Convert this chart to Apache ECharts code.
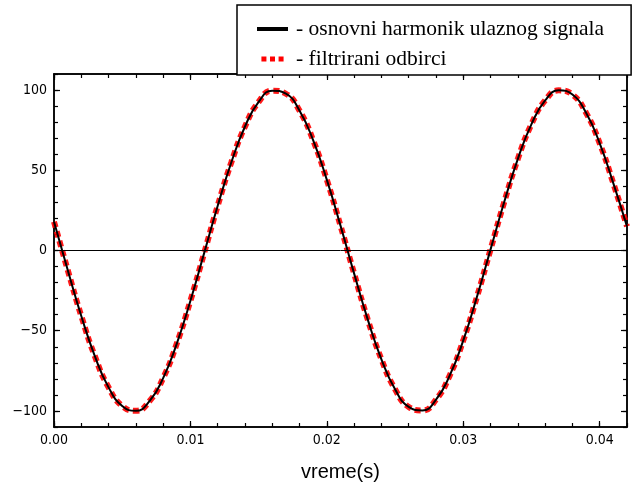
<!DOCTYPE html>
<html>
<head>
<meta charset="utf-8">
<script src="https://cdn.jsdelivr.net/npm/echarts@6/dist/echarts.min.js"></script>
<style>
    html, body { margin: 0; padding: 0; background: #fff; }
    #chart { width: 635px; height: 488px; }
</style>
</head>
<body>
<div id="chart"></div>
<script>
    // vreme (s), korak 1 ms
    var vreme = [0.000, 0.001, 0.002, 0.003, 0.004, 0.005, 0.006, 0.007, 0.008, 0.009,
        0.010, 0.011, 0.012, 0.013, 0.014, 0.015, 0.016, 0.017, 0.018, 0.019,
        0.020, 0.021, 0.022, 0.023, 0.024, 0.025, 0.026, 0.027, 0.028, 0.029,
        0.030, 0.031, 0.032, 0.033, 0.034, 0.035, 0.036, 0.037, 0.038, 0.039,
        0.040, 0.041, 0.042];
    // osnovni harmonik ulaznog signala
    var harmonik = [17.9, -12.0, -40.8, -66.0, -85.3, -96.9, -99.9, -93.9, -79.5, -58.0,
        -31.3, -1.8, 27.9, 55.0, 77.3, 92.6, 99.6, 97.7, 87.1, 68.6,
        44.0, 15.5, -14.4, -43.1, -67.8, -86.5, -97.5, -99.7, -93.0, -78.0,
        -56.0, -28.9, 0.7, 30.2, 57.1, 78.8, 93.5, 99.8, 97.2, 85.8,
        66.8, 41.8, 15.0];
    // filtrirani odbirci
    var odbirci = [17.9, -12.0, -40.8, -66.0, -85.3, -96.9, -99.9, -93.9, -79.5, -58.0,
        -31.3, -1.8, 27.9, 55.0, 77.3, 92.6, 99.6, 97.7, 87.1, 68.6,
        44.0, 15.5, -14.4, -43.1, -67.8, -86.5, -97.5, -99.7, -93.0, -78.0,
        -56.0, -28.9, 0.7, 30.2, 57.1, 78.8, 93.5, 99.8, 97.2, 85.8,
        66.8, 41.8, 15.0];
    var xTicks = [0, 0.01, 0.02, 0.03, 0.04];
    var yTicks = [-100, -50, 0, 50, 100];

    var labelFont = 'Liberation Sans Narrow, DejaVu Sans Condensed, sans-serif';
    var axisLine = {show: true, onZero: false, lineStyle: {color: '#000', width: 1.5}};

    function xAx(pos, major, showLabel) {
        var a = {
            type: 'value', position: pos, min: 0, max: 0.042,
            axisLine: axisLine, splitLine: {show: false},
            axisTick: {inside: true, length: major ? 6 : 4, lineStyle: {color: '#000', width: 1.2}},
            axisLabel: {show: false}
        };
        if (major) {
            a.axisTick.customValues = xTicks;
            a.axisLabel = {
                show: showLabel, customValues: xTicks, margin: 6,
                fontFamily: labelFont, fontSize: 14, color: '#000',
                formatter: function (v) { return v.toFixed(2); }
            };
        } else {
            a.interval = 0.002;
        }
        return a;
    }

    function yAx(pos, major, showLabel) {
        var a = {
            type: 'value', position: pos, min: -110, max: 110,
            axisLine: axisLine, splitLine: {show: false},
            axisTick: {inside: true, length: major ? 6 : 4, lineStyle: {color: '#000', width: 1.2}},
            axisLabel: {show: false}
        };
        if (major) {
            a.axisTick.customValues = yTicks;
            a.axisLabel = {
                show: showLabel, customValues: yTicks, margin: 7,
                fontFamily: labelFont, fontSize: 14, color: '#000',
                formatter: function (v) { return v < 0 ? '\u2212' + (-v) : '' + v; }
            };
        } else {
            a.interval = 10;
        }
        return a;
    }

    var xMain = xAx('bottom', true, true);
    xMain.name = 'vreme(s)';
    xMain.nameLocation = 'middle';
    xMain.nameGap = 35;
    xMain.nameTextStyle = {fontFamily: 'Liberation Sans, Arial, sans-serif', fontSize: 20, color: '#000'};

    var chart = echarts.init(document.getElementById('chart'));
    chart.setOption({
        animation: false,
        backgroundColor: '#fff',
        grid: {left: 54, right: 8, top: 74, bottom: 61, show: false},
        legend: {
            left: 237, top: 5,
            orient: 'vertical',
            padding: [13, 27, 5, 20],
            itemGap: 8,
            itemWidth: 31, itemHeight: 5,
            backgroundColor: '#fff',
            borderColor: '#000', borderWidth: 1.5,
            borderRadius: 0,
            z: 10,
            textStyle: {fontFamily: 'Liberation Serif, Times New Roman, serif', fontSize: 21.5, color: '#000', padding: [0, 0, 0, 3]},
            formatter: function (name) { return '- ' + name; },
            data: [
                {name: 'osnovni harmonik ulaznog signala', icon: 'path://M0,1h31v4h-31z'},
                {name: 'filtrirani odbirci', icon: 'path://M0,0h7v7h-7z M12,0h7v7h-7z M24,0h7v7h-7z'}
            ]
        },
        xAxis: [xMain, xAx('bottom', false, false), xAx('top', true, false), xAx('top', false, false)],
        yAxis: [yAx('left', true, true), yAx('left', false, false), yAx('right', true, false), yAx('right', false, false)],
        series: [
            {
                name: 'filtrirani odbirci',
                type: 'line', smooth: 0.5, symbol: 'none', showSymbol: false, z: 2,
                data: vreme.map(function (t, i) { return [t, odbirci[i]]; }),
                lineStyle: {color: '#ff0000', width: 6, type: [6, 4], cap: 'butt', opacity: 0.9},
                itemStyle: {color: '#ff0000'}
            },
            {
                name: 'osnovni harmonik ulaznog signala',
                type: 'line', smooth: 0.5, symbol: 'none', showSymbol: false, z: 3,
                data: vreme.map(function (t, i) { return [t, harmonik[i]]; }),
                lineStyle: {color: '#000', width: 2},
                itemStyle: {color: '#000'},
                markLine: {
                    silent: true, symbol: 'none', label: {show: false},
                    lineStyle: {color: '#000', width: 1, type: 'solid'},
                    data: [{yAxis: 0}]
                }
            }
        ]
    });
</script>
</body>
</html>
